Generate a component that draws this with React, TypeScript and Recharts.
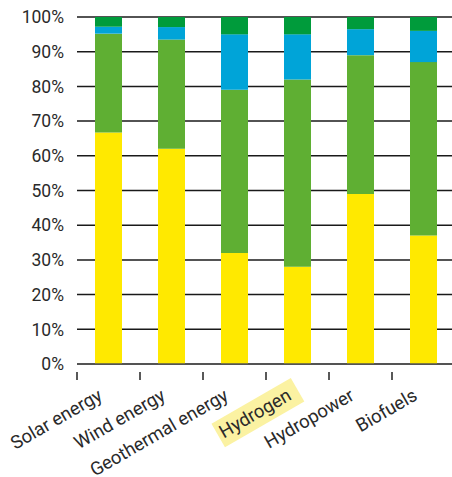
import { BarChart, Bar, XAxis, YAxis, CartesianGrid } from "recharts";

const categories = ["Solar energy", "Wind energy", "Geothermal energy", "Hydrogen", "Hydropower", "Biofuels"];
const yellowValues = [66.7, 62, 32, 28, 49, 37];
const greenValues = [28.5, 31.5, 47, 54, 40, 50];
const blueValues = [2, 3.6, 16, 13, 7.5, 9];
const darkGreenValues = [2.8, 2.9, 5, 5, 3.5, 4];
const yTicks = [0, 10, 20, 30, 40, 50, 60, 70, 80, 90, 100];
const highlighted = "Hydrogen";

const SERIES = [
  { key: "yellow", color: "#FFE900" },
  { key: "green", color: "#5FAF33" },
  { key: "blue", color: "#00A4D8" },
  { key: "darkGreen", color: "#009B3B" },
];

const TEXT_COLOR = "#2a2a2a";
const FONT = "Roboto, 'DejaVu Sans', sans-serif";
const BAND = 63;
const ANGLE = -30;

const rows = categories.map((name, i) => ({
  name,
  yellow: yellowValues[i],
  green: greenValues[i],
  blue: blueValues[i],
  darkGreen: darkGreenValues[i],
}));

function CategoryTick(props: any) {
  const { x, y, payload } = props;
  const label = String(payload.value);
  const isHi = label === highlighted;
  const left = x - BAND / 2;
  const w = label.length * 9.2;
  return (
    <g>
      <line x1={left} y1={y} x2={left} y2={y + 8} stroke="#222" strokeWidth={1.5} />
      <g transform={`translate(${x - 5},${y + 27}) rotate(${ANGLE})`}>
        {isHi && <rect x={-w - 9} y={-19} width={w + 18} height={27} fill="#FBF2A2" />}
        <text x={0} y={0} textAnchor="end" fill={TEXT_COLOR} fontSize={18.5} fontFamily={FONT}>
          {label}
        </text>
      </g>
    </g>
  );
}

export default function App() {
  return (
    <div style={{ position: "absolute", left: 0, top: 0, width: 452, height: 477, overflow: "hidden", background: "#fff" }}>
      <BarChart width={460} height={477} data={rows} margin={{ top: 17, right: 5, left: 17, bottom: 0 }} barCategoryGap={0}>
        <CartesianGrid horizontal vertical={false} stroke="#1a1a1a" strokeWidth={1.5} strokeDasharray="" />
        <XAxis
          dataKey="name"
          interval={0}
          height={113}
          axisLine={{ stroke: "#555", strokeWidth: 1.6 }}
          tickLine={false}
          tick={<CategoryTick />}
        />
        <YAxis
          type="number"
          domain={[0, 100]}
          ticks={yTicks}
          width={60}
          axisLine={false}
          tickLine={false}
          tickSize={0}
          tickMargin={13}
          tickFormatter={(v: number) => v + "%"}
          tick={{ fill: TEXT_COLOR, fontSize: 17.5, fontFamily: FONT }}
        />
        {SERIES.map((s) => (
          <Bar key={s.key} dataKey={s.key} stackId="a" fill={s.color} barSize={27} isAnimationActive={false} />
        ))}
      </BarChart>
    </div>
  );
}
